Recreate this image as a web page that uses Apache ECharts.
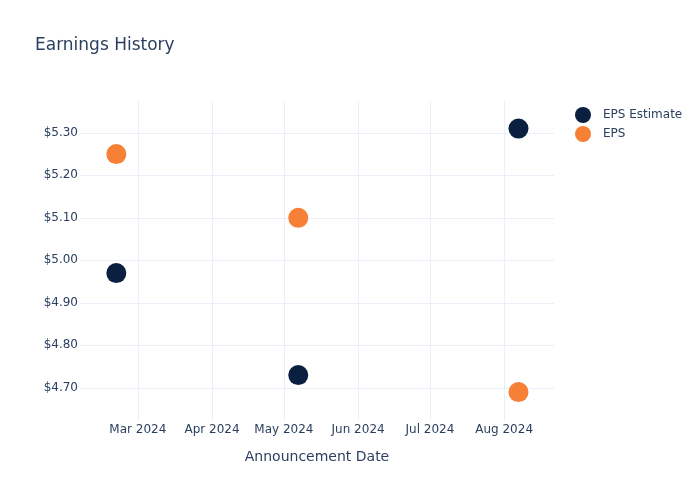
<!DOCTYPE html>
<html>
<head>
<meta charset="utf-8">
<script src="https://cdn.jsdelivr.net/npm/echarts@6/dist/echarts.min.js"></script>
<style>html,body{margin:0;padding:0;background:#fff}#c{width:700px;height:500px}</style>
</head>
<body>
<div id="c"></div>
<script>
var dates = ['2024-02-21', '2024-05-07', '2024-08-07'];
var epsEstimate = [4.97, 4.73, 5.31];
var eps = [5.25, 5.10, 4.69];
var yTicks = [4.70, 4.80, 4.90, 5.00, 5.10, 5.20, 5.30];
var xTicks = ['2024-03-01', '2024-04-01', '2024-05-01', '2024-06-01', '2024-07-01', '2024-08-01'];
var monthNames = ['Jan','Feb','Mar','Apr','May','Jun','Jul','Aug','Sep','Oct','Nov','Dec'];

function toTime(s) { var p = s.split('-'); return new Date(+p[0], +p[1] - 1, +p[2]).getTime(); }
var xTickTimes = xTicks.map(toTime);

var chart = echarts.init(document.getElementById('c'), null, {renderer: 'canvas'});
var font = 'DejaVu Sans, sans-serif';
var textColor = '#2a3f5f';
var gridColor = '#ebf0f8';

function pairs(vals) { return dates.map(function (d, i) { return [toTime(d), vals[i]]; }); }

chart.setOption({
  backgroundColor: '#ffffff',
  textStyle: {fontFamily: font},
  title: {
    text: 'Earnings History',
    left: 30, top: 32,
    textStyle: {fontFamily: font, fontSize: 17, fontWeight: 'normal', color: textColor}
  },
  legend: {
    orient: 'vertical',
    left: 570, top: 102,
    itemWidth: 16, itemHeight: 16, itemGap: 3,
    icon: 'circle',
    textStyle: {fontFamily: font, fontSize: 12, color: textColor, padding: [0, 0, 0, 7]},
    data: ['EPS Estimate', 'EPS']
  },
  grid: {left: 80, right: 146, top: 101, bottom: 79},
  xAxis: {
    type: 'value',
    scale: true,
    min: new Date(2024, 1, 5, 20).getTime(),
    max: new Date(2024, 7, 21, 20).getTime(),
    name: 'Announcement Date',
    nameLocation: 'middle',
    nameGap: 29,
    nameTextStyle: {fontFamily: font, fontSize: 14, color: textColor},
    axisLine: {show: false},
    axisTick: {show: false, customValues: xTickTimes},
    splitLine: {show: true, lineStyle: {color: gridColor, width: 1}},
    axisLabel: {
      fontFamily: font, fontSize: 12, color: textColor, margin: 3,
      customValues: xTickTimes,
      formatter: function (v) {
        var d = new Date(v);
        return monthNames[d.getMonth()] + ' ' + d.getFullYear();
      }
    }
  },
  yAxis: {
    type: 'value',
    min: 4.622,
    max: 5.375,
    axisLine: {show: false},
    axisTick: {show: false, customValues: yTicks},
    splitLine: {show: true, lineStyle: {color: gridColor, width: 1}},
    axisLabel: {
      fontFamily: font, fontSize: 12, color: textColor, margin: 2,
      customValues: yTicks,
      formatter: function (v) { return '$' + v.toFixed(2); }
    }
  },
  series: [
    {
      name: 'EPS Estimate', type: 'scatter', symbolSize: 20,
      itemStyle: {color: '#0b1f41', opacity: 1},
      data: pairs(epsEstimate)
    },
    {
      name: 'EPS', type: 'scatter', symbolSize: 20,
      itemStyle: {color: '#f68035', opacity: 1},
      data: pairs(eps)
    }
  ]
});
</script>
</body>
</html>
